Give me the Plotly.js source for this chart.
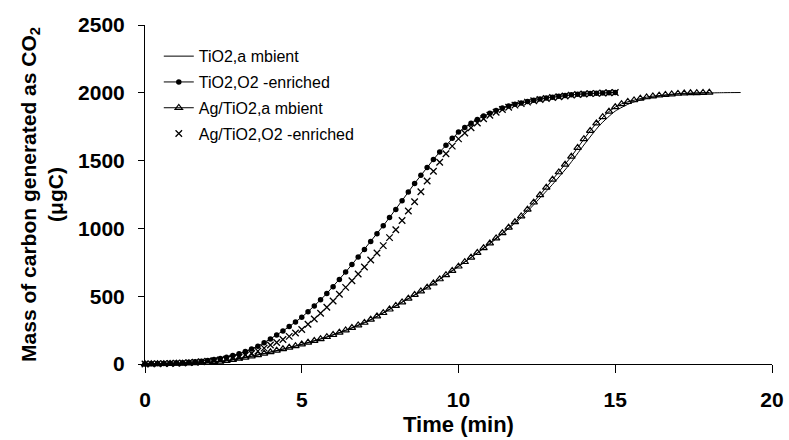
<!DOCTYPE html>
<html>
<head>
<meta charset="utf-8">
<script src="https://cdn.plot.ly/plotly-3.0.1.min.js"></script>
<style>html,body{margin:0;padding:0;background:#fff;}#chart{width:789px;height:440px;}</style>
</head>
<body>
<div id="chart"></div>
<script>
// Series names
const seriesNames = ["TiO2,a mbient", "TiO2,O2 -enriched", "Ag/TiO2,a mbient", "Ag/TiO2,O2 -enriched"];

// TiO2, ambient (solid line), time in min
const timeTiO2Ambient = [0,0.5,1,1.5,2,2.5,3,3.5,4,4.5,5,5.5,6,6.5,7,7.5,8,8.5,9,9.5,10,10.5,11,11.5,12,12.5,13,13.5,14,14.5,15,15.5,16,16.5,17,17.5,18,18.5,19];
const massTiO2Ambient = [0,1,3,6,12,22,38,62,87,115,144,177,213,257,303,363,428,495,562,640,718,802,886,980,1078,1200,1325,1460,1615,1760,1865,1925,1958,1978,1990,1996,1999,2001,2002];

// TiO2, O2-enriched (dots), every 0.2 min from 0 to 15
const timeTiO2O2 = [0,0.2,0.4,0.6,0.8,1,1.2,1.4,1.6,1.8,2,2.2,2.4,2.6,2.8,3,3.2,3.4,3.6,3.8,4,4.2,4.4,4.6,4.8,5,5.2,5.4,5.6,5.8,6,6.2,6.4,6.6,6.8,7,7.2,7.4,7.6,7.8,8,8.2,8.4,8.6,8.8,9,9.2,9.4,9.6,9.8,10,10.2,10.4,10.6,10.8,11,11.2,11.4,11.6,11.8,12,12.2,12.4,12.6,12.8,13,13.2,13.4,13.6,13.8,14,14.2,14.4,14.6,14.8,15];
const massTiO2O2 = [0,1,2,3,5,8,10,13,17,21,26,33,41,50,62,75,92,110,131,157,185,213,244,276,310,345,386,428,473,520,570,623,678,733,789,845,903,961,1020,1080,1140,1204,1268,1332,1392,1450,1508,1563,1614,1664,1710,1745,1776,1803,1828,1850,1869,1887,1902,1915,1925,1935,1945,1954,1961,1968,1974,1980,1985,1989,1992,1995,1997,1999,2001,2003];

// Ag/TiO2, ambient (open triangles), every 0.2 min from 0 to 18
const timeAgAmbient = [0,0.2,0.4,0.6,0.8,1,1.2,1.4,1.6,1.8,2,2.2,2.4,2.6,2.8,3,3.2,3.4,3.6,3.8,4,4.2,4.4,4.6,4.8,5,5.2,5.4,5.6,5.8,6,6.2,6.4,6.6,6.8,7,7.2,7.4,7.6,7.8,8,8.2,8.4,8.6,8.8,9,9.2,9.4,9.6,9.8,10,10.2,10.4,10.6,10.8,11,11.2,11.4,11.6,11.8,12,12.2,12.4,12.6,12.8,13,13.2,13.4,13.6,13.8,14,14.2,14.4,14.6,14.8,15,15.2,15.4,15.6,15.8,16,16.2,16.4,16.6,16.8,17,17.2,17.4,17.6,17.8,18];
const massAgAmbient = [0,0,1,1,2,3,4,5,7,9,12,15,19,24,31,40,48,57,67,77,88,99,110,121,133,145,158,171,185,200,215,232,249,267,286,305,328,352,377,403,430,456,483,510,537,565,595,626,657,688,720,753,786,820,855,890,928,966,1006,1047,1090,1140,1192,1246,1302,1360,1415,1471,1530,1595,1660,1720,1775,1822,1862,1895,1918,1934,1946,1958,1968,1975,1981,1986,1990,1994,1996,1998,1999,2001,2002];

// Ag/TiO2, O2-enriched (crosses), every 0.2 min from 0 to 15
const timeAgO2 = [0,0.2,0.4,0.6,0.8,1,1.2,1.4,1.6,1.8,2,2.2,2.4,2.6,2.8,3,3.2,3.4,3.6,3.8,4,4.2,4.4,4.6,4.8,5,5.2,5.4,5.6,5.8,6,6.2,6.4,6.6,6.8,7,7.2,7.4,7.6,7.8,8,8.2,8.4,8.6,8.8,9,9.2,9.4,9.6,9.8,10,10.2,10.4,10.6,10.8,11,11.2,11.4,11.6,11.8,12,12.2,12.4,12.6,12.8,13,13.2,13.4,13.6,13.8,14,14.2,14.4,14.6,14.8,15];
const massAgO2 = [0,1,2,3,4,6,8,10,13,16,20,24,29,35,43,50,64,78,95,117,140,159,181,204,229,255,293,332,374,418,465,514,565,614,664,715,767,819,873,932,990,1058,1128,1197,1270,1350,1421,1488,1550,1607,1660,1703,1742,1777,1809,1835,1857,1877,1894,1909,1920,1931,1941,1950,1958,1965,1971,1977,1983,1987,1991,1994,1996,1998,2000,2002];

// Axis ticks
const xTicks = [0, 5, 10, 15, 20];
const yTicks = [0, 500, 1000, 1500, 2000, 2500];

const FONT = "Liberation Sans, Arial, Helvetica, sans-serif";

const traces = [
  {x: timeTiO2Ambient, y: massTiO2Ambient, name: seriesNames[0], mode: "lines",
   line: {color: "#000", width: 1, shape: "spline", smoothing: 0.6}, legendgroup: "a", cliponaxis: false},
  {x: timeTiO2O2, y: massTiO2O2, name: seriesNames[1], mode: "lines+markers",
   line: {color: "#000", width: 1}, marker: {symbol: "circle", size: 5.5, color: "#000"}, legendgroup: "b", cliponaxis: false},
  {x: timeAgAmbient, y: massAgAmbient, name: seriesNames[2], mode: "lines+markers",
   line: {color: "#000", width: 1}, marker: {symbol: "triangle-up-open", size: 6.5, color: "#000", line: {width: 1.2, color: "#000"}}, legendgroup: "c", cliponaxis: false},
  {x: timeAgO2, y: massAgO2, name: seriesNames[3], mode: "markers",
   marker: {symbol: "x-thin-open", size: 6.5, color: "#000", line: {width: 1.3, color: "#000"}}, legendgroup: "d", cliponaxis: false}
];

const layout = {
  width: 789, height: 440,
  margin: {l: 145, r: 17, t: 25, b: 76},
  paper_bgcolor: "#fff", plot_bgcolor: "#fff",
  font: {family: FONT, color: "#000"},
  showlegend: true,
  legend: {x: 0.022, y: 0.958, xanchor: "left", yanchor: "top", bgcolor: "rgba(0,0,0,0)",
    font: {family: FONT, size: 16, color: "#000"}, tracegroupgap: 2, itemwidth: 30},
  xaxis: {range: [0, 20], tickvals: xTicks, ticktext: xTicks.map(String), showgrid: false, zeroline: false,
    showline: true, linecolor: "#000", linewidth: 1, ticks: "outside", ticklen: 8, tickcolor: "#000",
    ticklabelstandoff: 9,
    tickfont: {family: FONT, size: 21, weight: "bold", color: "#000"},
    title: {text: "Time (min)", font: {family: FONT, size: 22, weight: "bold", color: "#000"}, standoff: 6}},
  yaxis: {range: [0, 2500], tickvals: yTicks, ticktext: yTicks.map(String), showgrid: false, zeroline: false,
    showline: true, linecolor: "#000", linewidth: 1, ticks: "outside", ticklen: 6, tickcolor: "#000",
    ticklabelstandoff: 9,
    tickfont: {family: FONT, size: 21, weight: "bold", color: "#000"},
    title: {text: "Mass of carbon generated as CO<sub>2</sub><br>(μgC)", font: {family: FONT, size: 21, weight: "bold", color: "#000"}, standoff: 8}}
};

Plotly.newPlot("chart", traces, layout, {displayModeBar: false, staticPlot: true});
</script>
</body>
</html>
